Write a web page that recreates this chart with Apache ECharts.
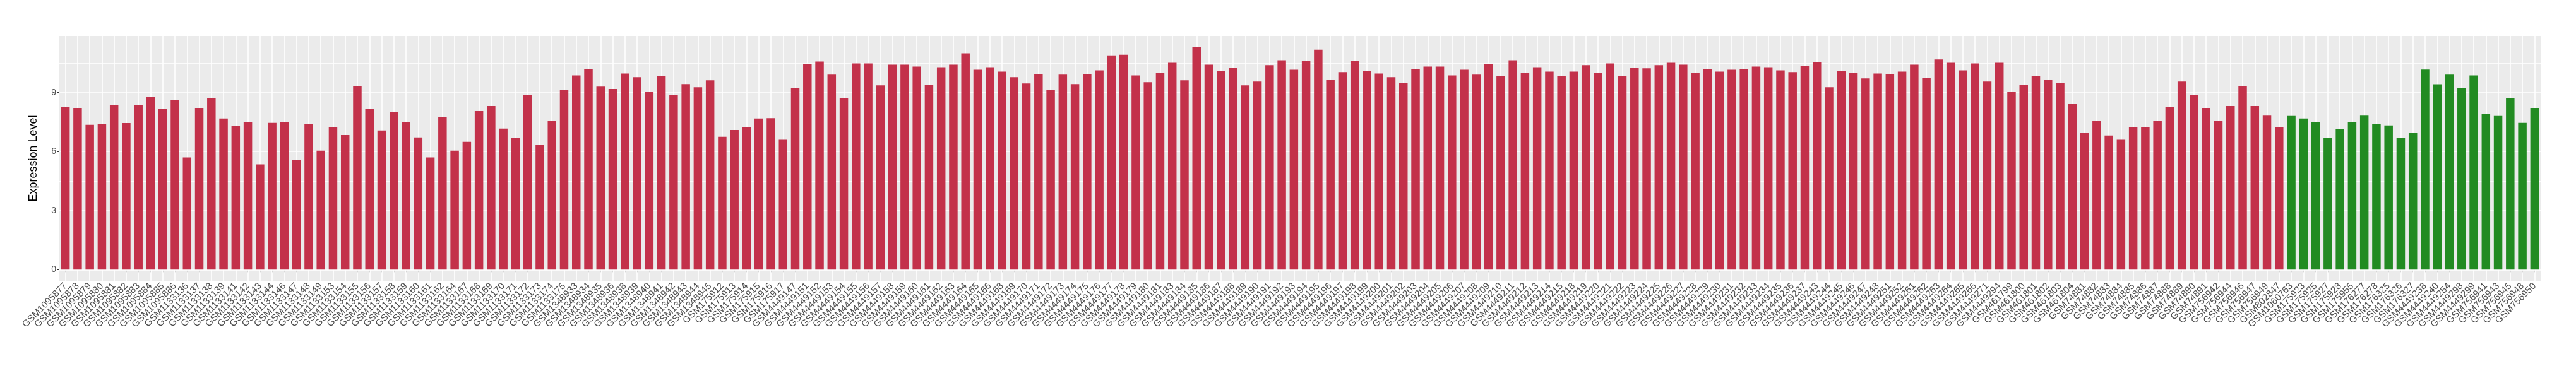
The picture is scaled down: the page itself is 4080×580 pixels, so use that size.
<!DOCTYPE html>
<html>
<head>
<meta charset="utf-8">
<script src="https://cdn.jsdelivr.net/npm/echarts@6/dist/echarts.min.js"></script>
<style>html,body{margin:0;padding:0;background:#fff}#c{width:4080px;height:580px}</style>
</head>
<body>
<div id="c"></div>
<script>
// ---- Data ----
var tumorSamples = [
"GSM1095877","GSM1095878","GSM1095879","GSM1095880","GSM1095881","GSM1095882","GSM1095883","GSM1095884","GSM1095885","GSM1095886",
"GSM1133136","GSM1133137","GSM1133138","GSM1133139","GSM1133141","GSM1133142","GSM1133143","GSM1133144","GSM1133146","GSM1133147",
"GSM1133148","GSM1133149","GSM1133153","GSM1133154","GSM1133155","GSM1133156","GSM1133157","GSM1133158","GSM1133159","GSM1133160",
"GSM1133161","GSM1133162","GSM1133164","GSM1133167","GSM1133168","GSM1133169","GSM1133170","GSM1133171","GSM1133172","GSM1133173",
"GSM1133174","GSM1133175",
"GSM1348933","GSM1348934","GSM1348935","GSM1348936","GSM1348938","GSM1348939","GSM1348940","GSM1348941","GSM1348942","GSM1348943",
"GSM1348944","GSM1348945",
"GSM175912","GSM175913","GSM175914","GSM175915","GSM175916","GSM175917",
"GSM4449147","GSM4449151","GSM4449152","GSM4449153","GSM4449154","GSM4449155","GSM4449156","GSM4449157","GSM4449158","GSM4449159",
"GSM4449160","GSM4449161","GSM4449162","GSM4449163","GSM4449164","GSM4449165","GSM4449166",
"GSM4449168","GSM4449169","GSM4449170","GSM4449171","GSM4449172","GSM4449173","GSM4449174","GSM4449175","GSM4449176","GSM4449177",
"GSM4449178","GSM4449179","GSM4449180","GSM4449181",
"GSM4449183","GSM4449184","GSM4449185","GSM4449186","GSM4449187","GSM4449188","GSM4449189","GSM4449190","GSM4449191","GSM4449192",
"GSM4449193","GSM4449194","GSM4449195","GSM4449196","GSM4449197","GSM4449198","GSM4449199","GSM4449200","GSM4449201","GSM4449202",
"GSM4449203","GSM4449204","GSM4449205","GSM4449206","GSM4449207","GSM4449208","GSM4449209","GSM4449210","GSM4449211","GSM4449212",
"GSM4449213","GSM4449214","GSM4449215",
"GSM4449218","GSM4449219","GSM4449220","GSM4449221","GSM4449222","GSM4449223","GSM4449224","GSM4449225","GSM4449226","GSM4449227",
"GSM4449228","GSM4449229","GSM4449230","GSM4449231","GSM4449232","GSM4449233","GSM4449234","GSM4449235","GSM4449236","GSM4449237",
"GSM4449243","GSM4449244","GSM4449245","GSM4449246","GSM4449247","GSM4449248",
"GSM4449251","GSM4449252",
"GSM4449261","GSM4449262","GSM4449263","GSM4449264","GSM4449265","GSM4449266",
"GSM4449271","GSM4449294",
"GSM461799","GSM461800","GSM461801","GSM461802","GSM461803","GSM461804",
"GSM74881","GSM74882","GSM74883","GSM74884","GSM74885","GSM74886","GSM74887","GSM74888","GSM74889","GSM74890","GSM74891",
"GSM756942","GSM756944","GSM756946","GSM756947","GSM756949",
"GSM802847"
];
var tumorValues = [
8.25,8.22,7.36,7.39,8.35,7.45,8.38,8.80,8.19,8.64,
5.70,8.22,8.73,7.68,7.30,7.48,5.35,7.46,7.48,5.57,
7.39,6.05,7.26,6.84,9.34,8.18,7.07,8.03,7.48,6.72,
5.70,7.77,6.05,6.50,8.06,8.32,7.17,6.69,8.89,6.34,
7.58,9.15,
9.87,10.20,9.30,9.18,9.97,9.78,9.05,9.84,8.86,9.43,
9.27,9.62,
6.75,7.10,7.23,7.68,7.70,6.60,
9.24,10.45,10.58,9.91,8.70,10.48,10.48,9.37,10.42,10.42,
10.32,9.40,10.29,10.42,10.99,10.16,10.29,
10.06,9.78,9.46,9.94,9.15,9.91,9.43,9.94,10.13,10.89,
10.92,9.87,9.53,10.01,
10.51,9.62,11.31,10.42,10.10,10.25,9.37,9.56,10.39,10.64,
10.16,10.61,11.18,9.65,10.04,10.61,10.10,9.97,9.78,9.49,
10.20,10.32,10.32,9.87,10.16,9.91,10.45,9.84,10.64,10.01,
10.29,10.06,9.84,
10.06,10.39,10.01,10.48,9.84,10.25,10.23,10.39,10.51,10.42,
10.01,10.20,10.06,10.16,10.20,10.32,10.29,10.13,10.04,10.35,
10.54,9.27,10.10,10.01,9.72,9.97,
9.94,10.06,
10.42,9.75,10.68,10.51,10.13,10.48,
9.56,10.51,
9.05,9.40,9.82,9.65,9.49,8.41,
6.94,7.58,6.82,6.60,7.26,7.23,7.55,8.28,9.56,8.86,8.22,
7.58,8.32,9.33,8.32,7.83,
7.23
];
var normalSamples = [
"GSM1060763","GSM175923","GSM175925","GSM175927","GSM175928","GSM175955","GSM176277","GSM176278","GSM176325","GSM176326",
"GSM176327","GSM4449238","GSM4449240","GSM4449254","GSM4449298","GSM4449299","GSM756941","GSM756943","GSM756945","GSM756948",
"GSM756950"
];
var normalValues = [
7.81,7.68,7.49,6.69,7.16,7.49,7.83,7.42,7.33,6.69,
6.95,10.17,9.42,9.91,9.23,9.87,7.93,7.81,8.73,7.46,
8.22
];
var yTicks = [0, 3, 6, 9];
var yMinorLines = [1.5, 4.5, 7.5, 10.5];

// ---- Build ----
var tumorColor = '#C3314A', normalColor = '#228B22';
var categories = tumorSamples.concat(normalSamples);
var barData = [];
tumorValues.forEach(function(v){ barData.push({value: v, itemStyle: {color: tumorColor}}); });
normalValues.forEach(function(v){ barData.push({value: v, itemStyle: {color: normalColor}}); });

var allVals = tumorValues.concat(normalValues);
var vmax = Math.max.apply(null, allVals);
var yMin = -0.05 * vmax, yMax = vmax * 1.05;

var gridLines = [];
yTicks.forEach(function(t){ gridLines.push({yAxis: t, lineStyle: {color: '#FFFFFF', width: 1.6, type: 'solid'}}); });
yMinorLines.forEach(function(t){ gridLines.push({yAxis: t, lineStyle: {color: '#FFFFFF', width: 0.8, type: 'solid'}}); });
categories.forEach(function(c){ gridLines.push({xAxis: c, lineStyle: {color: '#FFFFFF', width: 1.6, type: 'solid'}}); });

var chart = echarts.init(document.getElementById('c'), null, {renderer: 'canvas'});
chart.setOption({
  animation: false,
  backgroundColor: '#FFFFFF',
  textStyle: {fontFamily: 'Liberation Sans, Arial, sans-serif'},
  grid: {left: 94, right: 56, top: 57, bottom: 135, show: true, backgroundColor: '#EBEBEB', borderWidth: 0},
  xAxis: {
    type: 'category',
    data: categories,
    boundaryGap: true,
    axisLine: {show: false},
    axisTick: {show: true, alignWithLabel: true, length: 4, lineStyle: {color: '#333333', width: 1}},
    axisLabel: {show: true, interval: 0, rotate: 45, fontSize: 15, color: '#4D4D4D', margin: 6, fontFamily: 'Liberation Sans, Arial, sans-serif'},
    splitLine: {show: false}
  },
  yAxis: {
    type: 'value',
    min: yMin, max: yMax,
    name: 'Expression Level',
    nameLocation: 'middle',
    nameRotate: 90,
    nameGap: 32,
    nameTextStyle: {fontSize: 18, color: '#000000', fontFamily: 'Liberation Sans, Arial, sans-serif'},
    axisLine: {show: false},
    axisTick: {show: true, length: 4, customValues: yTicks, lineStyle: {color: '#333333', width: 1}},
    axisLabel: {show: true, customValues: yTicks, fontSize: 14, color: '#4D4D4D', margin: 5, fontFamily: 'Liberation Sans, Arial, sans-serif'},
    splitLine: {show: false}
  },
  series: [
    {
      type: 'line',
      data: categories.map(function(){ return null; }),
      symbol: 'none',
      silent: true,
      z: 1,
      markLine: {silent: true, symbol: ['none','none'], z: 1, label: {show: false}, animation: false, data: gridLines}
    },
    {
      type: 'bar',
      data: barData,
      barWidth: '70%',
      z: 3
    }
  ]
});
</script>
</body>
</html>
